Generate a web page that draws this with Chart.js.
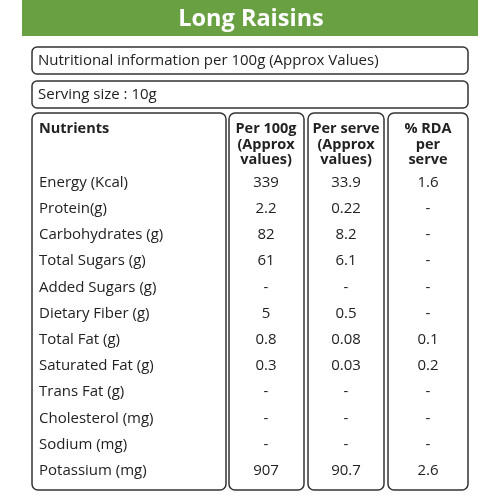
<!DOCTYPE html>
<html>
<head>
<meta charset="utf-8">
<script src="https://cdn.jsdelivr.net/npm/chart.js@4"></script>
<style>body{margin:0;background:#fff}</style>
</head>
<body>
<canvas id="c" width="500" height="500"></canvas>
<script>
// table data
var title = 'Long Raisins';
var infoLine = 'Nutritional information per 100g (Approx Values)';
var servingLine = 'Serving size : 10g';
var headers = [['Nutrients'], ['Per 100g', '(Approx', 'values)'], ['Per serve', '(Approx', 'values)'], ['% RDA', 'per', 'serve']];
var nutrients = ['Energy (Kcal)', 'Protein(g)', 'Carbohydrates (g)', 'Total Sugars (g)', 'Added Sugars (g)', 'Dietary Fiber (g)',
  'Total Fat (g)', 'Saturated Fat (g)', 'Trans Fat (g)', 'Cholesterol (mg)', 'Sodium (mg)', 'Potassium (mg)'];
var per100g = ['339', '2.2', '82', '61', '-', '5', '0.8', '0.3', '-', '-', '-', '907'];
var perServe = ['33.9', '0.22', '8.2', '6.1', '-', '0.5', '0.08', '0.03', '-', '-', '-', '90.7'];
var rda = ['1.6', '-', '-', '-', '-', '-', '0.1', '0.2', '-', '-', '-', '2.6'];

var FONT = '"Open Sans", sans-serif';

function roundBox(ctx, x, y, w, h, r) {
    ctx.beginPath();
    ctx.roundRect(x, y, w, h, r);
    ctx.stroke();
}

var tablePlugin = {
    id: 'tablePlugin',
    afterDraw: function (chart) {
        var ctx = chart.ctx, sx = chart.scales.x, sy = chart.scales.y;
        var X = function (v) { return sx.getPixelForValue(v); };
        var Y = function (v) { return sy.getPixelForValue(v); };
        ctx.save();
        // header bar
        ctx.fillStyle = '#69a042';
        ctx.fillRect(X(22), Y(0), X(478) - X(22), Y(36) - Y(0));
        ctx.fillStyle = '#fff';
        ctx.font = 'bold 23.5px ' + FONT;
        ctx.textAlign = 'center';
        ctx.textBaseline = 'middle';
        ctx.fillText(title, X(251), Y(19));

        ctx.strokeStyle = '#333';
        ctx.lineWidth = 1.5;
        roundBox(ctx, X(32), Y(47), X(468) - X(32), Y(74) - Y(47), 5);
        roundBox(ctx, X(32), Y(81), X(468) - X(32), Y(108) - Y(81), 5);
        var cols = [[32, 226], [229, 304], [308, 384], [388, 468]];
        cols.forEach(function (c) { roundBox(ctx, X(c[0]), Y(113), X(c[1]) - X(c[0]), Y(490) - Y(113), 6); });

        ctx.fillStyle = '#222';
        ctx.font = '15px ' + FONT;
        ctx.textAlign = 'left';
        ctx.fillText(infoLine, X(38), Y(61));
        ctx.fillText(servingLine, X(38), Y(95));

        // column headers
        ctx.font = 'bold 14.5px ' + FONT;
        ctx.fillText(headers[0][0], X(39), Y(129));
        ctx.textAlign = 'center';
        var centers = [266, 346, 428];
        for (var i = 1; i < 4; i++) {
            headers[i].forEach(function (t, k) { ctx.fillText(t, X(centers[i - 1]), Y(129 + k * 15.5)); });
        }
        // rows
        ctx.font = '15px ' + FONT;
        nutrients.forEach(function (n, r) {
            var y = Y(182.5 + r * 26.2);
            ctx.textAlign = 'left';
            ctx.fillText(n, X(39), y);
            ctx.textAlign = 'center';
            ctx.fillText(per100g[r], X(centers[0]), y);
            ctx.fillText(perServe[r], X(centers[1]), y);
            ctx.fillText(rda[r], X(centers[2]), y);
        });
        ctx.restore();
    }
};

new Chart(document.getElementById('c'), {
    type: 'scatter',
    data: { datasets: [{ data: [] }] },
    options: {
        responsive: false,
        animation: false,
        layout: { padding: 0 },
        plugins: { legend: { display: false }, tooltip: { enabled: false } },
        scales: {
            x: { type: 'linear', min: 0, max: 500, display: false },
            y: { type: 'linear', min: 0, max: 500, reverse: true, display: false }
        }
    },
    plugins: [tablePlugin]
});
</script>
</body>
</html>
